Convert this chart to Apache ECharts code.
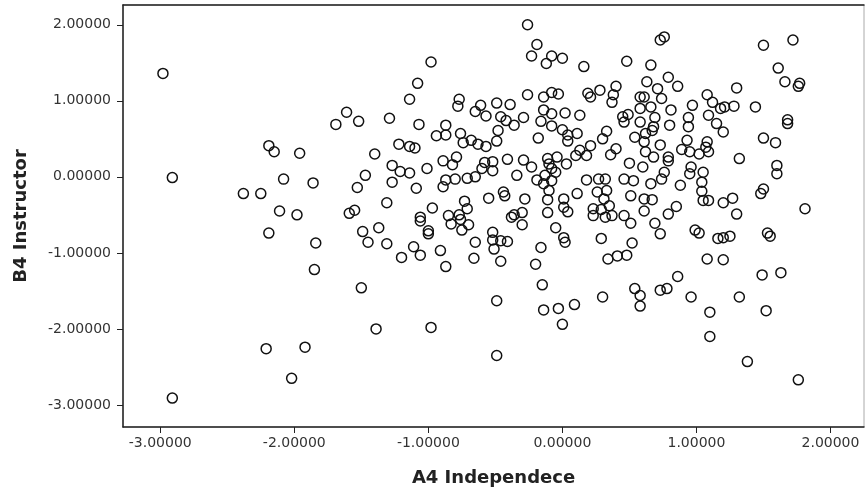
<!DOCTYPE html>
<html>
<head>
<meta charset="utf-8">
<script src="https://cdn.jsdelivr.net/npm/echarts@6/dist/echarts.min.js"></script>
<style>
  html, body { margin: 0; padding: 0; background: #fff; }
  #chart { width: 866px; height: 494px; }
</style>
</head>
<body>
<div id="chart"></div>
<script>
// 刻度位置
const xTicks = [-3, -2, -1, 0, 1, 2]
const yTicks = [-3, -2, -1, 0, 1, 2]

// A4 Independece (x) 与 B4 Instructor (y)，按顺序一一对应
const independence = [
  -2.98, -2.91, -1.61, -1.69, -1.52, -2.19, -2.15, -1.96, -2.08, -1.86, -1.47, -1.53, -2.38, -2.25, -2.11, -1.98, -1.59, -1.55,
  -2.19, -1.84, -1.49, -1.45, -1.85, -1.50, -2.21, -1.92, -2.02, -2.91,
  -0.26, -0.19, -0.23, -0.12, -0.08, 0.00, 0.16, -0.98, -1.08, -1.14, -1.29, -1.07, -0.87, -0.94, -0.87, -0.77, -0.78, -0.61,
  -0.65, -0.57, -0.49, -0.39, -0.46, -0.42, -0.48, -0.36, -0.29, -0.26, -0.14, -0.08, -0.03, -0.14, -0.08, 0.02, 0.13, 0.19,
  0.21, -0.16, -0.08, 0.00, 0.04, 0.11, -0.18, 0.04, 0.21,
  -0.76, -0.74, -0.68, -0.63, -0.57, -0.49, -1.22, -1.14, -1.10, -1.40, -1.27, -1.21, -1.14, -1.27, -1.01, -1.09, -0.89, -0.82,
  -0.79, -0.87, -0.80, -0.89, -0.71, -0.65, -0.60, -0.52, -0.52, -0.58, -0.41, -0.34, -0.29, -0.23, -0.11, -0.10, -0.08, -0.04,
  0.03, 0.10, 0.13, 0.18, -0.19, -0.13, -0.08, -0.05, -0.14, 0.18, 0.27, 0.26, 0.11, -0.10, -0.11, 0.01, 0.01, 0.04, 0.23, 0.29,
  -0.55, -0.44, -0.43, -0.28, -0.73, -0.71, -0.97, -1.31, -1.06, -0.85, -0.77, -0.36, -0.30, -0.11,
  -1.37, -1.31, -1.20, -1.11, -1.06, -1.06, -1.00, -1.00, -0.91, -0.87, -0.83, -0.76, -0.75, -0.70, -0.65, -0.66, -0.52, -0.52,
  -0.51, -0.46, -0.41, -0.46, -0.38, -0.30, -0.05, 0.01, 0.02, -0.16, -0.20, -0.15, -0.49, -0.14, -0.03, 0.09, 0.00, 0.23, 0.32,
  -1.39, -0.98, -0.49,
  0.73, 0.76, 0.48, 0.66, 1.50, 1.72, 1.61, 1.66, 1.77, 1.76, 0.63, 0.71, 0.79, 0.86, 0.74, 0.28, 0.40, 0.38, 0.37, 0.58, 0.61,
  0.66, 0.58, 0.81, 0.97, 1.08, 1.12, 1.21, 1.18, 1.28, 1.30, 1.44, 1.68, 1.68, 0.45, 0.46, 0.49, 0.58, 0.69, 0.68, 0.80, 0.94,
  0.94, 1.09, 1.15, 1.20, 1.50, 1.59, 0.33, 0.30, 0.40, 0.36, 0.54, 0.62, 0.61, 0.67, 0.73, 0.62, 0.68, 0.79, 0.79, 0.89, 0.95,
  0.93, 1.02, 1.08, 1.09, 1.07, 1.32, 1.60, 1.60, 0.50, 0.60, 0.46, 0.53, 0.51, 0.66, 0.74, 0.76, 0.32, 0.33, 0.31, 0.35, 0.37,
  0.88, 0.96, 0.95, 1.05, 1.04, 1.04, 1.05, 1.09, 0.61, 0.67, 0.61, 0.85, 0.79, 1.20, 1.27, 1.30, 1.48, 1.50, 1.81, 0.46,
  0.51, 0.69, 0.73, 0.29, 0.52, 0.34, 0.41, 0.48, 0.99, 1.02, 1.16, 1.20, 1.25, 1.53, 1.55, 1.08, 1.20, 1.49, 1.63, 0.86, 0.30,
  0.54, 0.58, 0.58, 0.73, 0.78, 0.96, 1.32, 1.10, 1.52, 1.10, 1.38, 1.76
]
const instructor = [
  1.36, -0.01, 0.85, 0.69, 0.73, 0.41, 0.33, 0.31, -0.03, -0.08, 0.02, -0.14, -0.22, -0.22, -0.45, -0.50, -0.48, -0.44,
  -0.74, -0.87, -0.72, -0.86, -1.22, -1.46, -2.26, -2.24, -2.65, -2.91,
  2.00, 1.74, 1.59, 1.49, 1.59, 1.56, 1.45, 1.51, 1.23, 1.02, 0.77, 0.69, 0.68, 0.54, 0.55, 1.02, 0.93, 0.94,
  0.86, 0.80, 0.97, 0.95, 0.79, 0.74, 0.61, 0.68, 0.78, 1.08, 1.05, 1.11, 1.09, 0.88, 0.83, 0.84, 0.81, 1.10,
  1.05, 0.73, 0.67, 0.62, 0.55, 0.57, 0.51, 0.47, 0.41,
  0.57, 0.45, 0.48, 0.43, 0.40, 0.47, 0.43, 0.40, 0.38, 0.30, 0.15, 0.07, 0.05, -0.07, 0.11, -0.15, 0.21, 0.16,
  0.26, -0.04, -0.03, -0.13, -0.02, 0.00, 0.11, 0.08, 0.20, 0.19, 0.23, 0.02, 0.22, 0.13, 0.24, 0.17, 0.11, 0.26,
  0.17, 0.28, 0.35, 0.28, -0.04, 0.02, -0.05, 0.06, -0.09, -0.04, -0.03, -0.20, -0.22, -0.18, -0.30, -0.29, -0.40, -0.46, -0.42, -0.43,
  -0.28, -0.20, -0.25, -0.29, -0.32, -0.42, -0.41, -0.34, -0.53, -0.51, -0.50, -0.50, -0.47, -0.47,
  -0.67, -0.88, -1.06, -0.92, -1.03, -0.58, -0.71, -0.75, -0.97, -1.18, -0.62, -0.56, -0.70, -0.63, -0.86, -1.07, -0.73, -0.83,
  -0.95, -0.84, -0.85, -1.11, -0.53, -0.63, -0.67, -0.80, -0.86, -0.93, -1.15, -1.42, -1.63, -1.75, -1.73, -1.68, -1.94, -0.51, -0.53,
  -2.00, -1.98, -2.35,
  1.80, 1.84, 1.52, 1.47, 1.73, 1.80, 1.43, 1.25, 1.23, 1.19, 1.25, 1.16, 1.31, 1.19, 1.03, 1.14, 1.19, 1.08, 0.98, 1.05, 1.05,
  0.92, 0.90, 0.88, 0.94, 1.08, 0.98, 0.92, 0.90, 0.93, 1.17, 0.92, 0.75, 0.70, 0.79, 0.72, 0.82, 0.72, 0.78, 0.66, 0.68, 0.78,
  0.66, 0.81, 0.70, 0.59, 0.51, 0.45, 0.60, 0.50, 0.37, 0.29, 0.52, 0.57, 0.46, 0.61, 0.42, 0.33, 0.26, 0.26, 0.21, 0.36, 0.33,
  0.48, 0.30, 0.46, 0.33, 0.39, 0.24, 0.15, 0.04, 0.18, 0.13, -0.03, -0.05, -0.25, -0.09, -0.03, 0.06, -0.03, -0.18, -0.29, -0.38, -0.51,
  -0.11, 0.13, 0.04, 0.06, -0.07, -0.19, -0.31, -0.31, -0.29, -0.30, -0.45, -0.39, -0.49, -0.34, -0.28, -0.49, -0.22, -0.16, -0.42, -0.51,
  -0.61, -0.61, -0.75, -0.81, -0.87, -1.08, -1.04, -1.03, -0.70, -0.74, -0.81, -0.80, -0.78, -0.74, -0.78, -1.08, -1.09, -1.29, -1.26, -1.31, -1.58,
  -1.47, -1.56, -1.70, -1.49, -1.47, -1.58, -1.58, -1.78, -1.76, -2.10, -2.43, -2.67
]

const points = independence.map((x, i) => [x, instructor[i]])
const fmt = v => v.toFixed(5)

const myChart = echarts.init(document.getElementById('chart'))
const option = {
  animation: false,
  backgroundColor: '#fff',
  grid: {
    left: 123,
    right: 2,
    top: 5,
    bottom: 67,
    show: true,
    borderColor: '#aaa',
    borderWidth: 1,
    outerBoundsMode: 'none'
  },
  xAxis: [
    {
      type: 'value',
      min: -3.278,
      max: 2.25,
      name: 'A4 Independece',
      nameLocation: 'middle',
      nameGap: 42,
      nameTextStyle: { fontFamily: 'DejaVu Sans', fontWeight: 'bold', fontSize: 18, color: '#222' },
      axisLine: { show: true, onZero: false, lineStyle: { color: '#222', width: 1.5 } },
      axisTick: { show: true, length: 6, customValues: xTicks, lineStyle: { color: '#222' } },
      axisLabel: { customValues: xTicks, formatter: fmt, fontFamily: 'DejaVu Sans', fontSize: 14, color: '#333', margin: 9 },
      splitLine: { show: false }
    },
    {
      type: 'value',
      position: 'top',
      min: -3.278,
      max: 2.25,
      axisLine: { show: true, onZero: false, lineStyle: { color: '#222', width: 1.5 } },
      axisTick: { show: false },
      axisLabel: { show: false },
      splitLine: { show: false }
    }
  ],
  yAxis: {
    type: 'value',
    min: -3.29,
    max: 2.26,
    name: 'B4 Instructor',
    nameLocation: 'middle',
    nameGap: 93,
    nameTextStyle: { fontFamily: 'DejaVu Sans', fontWeight: 'bold', fontSize: 18, color: '#222' },
    axisLine: { show: true, onZero: false, lineStyle: { color: '#222', width: 1.5 } },
    axisTick: { show: true, length: 6, customValues: yTicks, lineStyle: { color: '#222' } },
    axisLabel: { customValues: yTicks, formatter: fmt, fontFamily: 'DejaVu Sans', fontSize: 14, color: '#333', margin: 12 },
    splitLine: { show: false }
  },
  series: [
    {
      type: 'scatter',
      xAxisIndex: 0,
      symbol: 'circle',
      symbolSize: 10,
      itemStyle: { color: 'rgba(0,0,0,0)', borderColor: '#111', borderWidth: 1.5, opacity: 1 },
      data: points
    }
  ]
}
myChart.setOption(option)
</script>
</body>
</html>
